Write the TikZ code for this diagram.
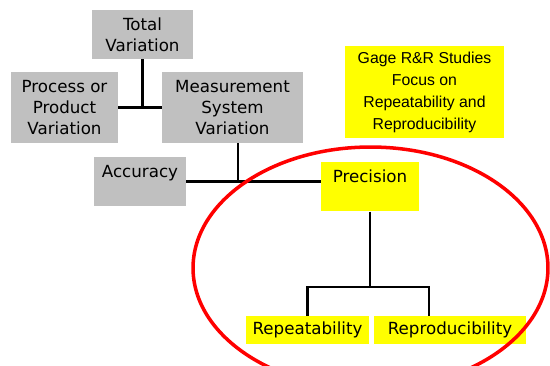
\documentclass[tikz,border=0pt]{standalone}
\usepackage{fontspec}
\setmainfont{DejaVu Sans}
\newfontfamily\notefont{Liberation Sans}
\usepackage{tikz}
\usetikzlibrary{positioning,calc}

\definecolor{boxgray}{RGB}{192,192,192}
\definecolor{markyellow}{RGB}{255,255,0}

\begin{document}
\begin{tikzpicture}[
    x=0.02cm, y=-0.02cm,
    var/.style = {rectangle, fill=boxgray, inner sep=0pt, align=center, font=\fontsize{9.5}{11.9}\selectfont},
    toptext/.style = {anchor=north, text height=11.5pt, text depth=16.3pt},
    prec/.style = {rectangle, fill=markyellow, inner sep=0pt, align=center, font=\fontsize{9.5}{11.9}\selectfont},
    note/.style = {rectangle, fill=markyellow, inner sep=0pt, align=center, font=\notefont\fontsize{9}{12.5}\selectfont},
    link/.style = {line width=1.5pt},
    ring/.style = {draw=red, line width=2pt}
]
    \useasboundingbox (0,0) rectangle (550,365);
    \clip (0,0) rectangle (550,365);

    \node[var, minimum width=2.02cm, minimum height=0.98cm] (total) at (142.5,34.5) {Total\\Variation};
    \node[var, minimum width=2.14cm, minimum height=1.42cm] (proc) at (64.5,107.5) {Process or\\Product\\Variation};
    \node[var, minimum width=2.82cm, minimum height=1.42cm] (meas) at (232.5,107.5) {Measurement\\System\\Variation};
    \node[var, toptext, minimum width=1.84cm] (acc) at (140,157) {Accuracy};
    \node[prec, toptext, minimum width=1.96cm] (precision) at (370,162) {Precision};
    \node[prec, minimum width=2.46cm, minimum height=0.56cm] (repeat) at (307.5,330) {Repeatability};
    \node[prec, minimum width=3.04cm, minimum height=0.56cm] (reprod) at (450,330) {Reproducibility};
    \node[note, minimum width=3.18cm, minimum height=1.84cm] (gage) at (424.5,92) {Gage R\&R Studies\\Focus on\\Repeatability and\\Reproducibility};

    \coordinate (mj) at (238,181.5);
    \coordinate (pbar) at (0,287);
    \coordinate (rbar) at (429,287);

    \draw[link] (total.south) -- (total.south |- proc.east);
    \draw[link] (proc.east) -- (meas.west);
    \draw[link] (meas.south -| mj) -- (mj);
    \draw[link] (acc.east) -- (acc.east -| precision.west);
    \draw[link] (precision.south) -- (precision.south |- pbar);
    \draw[link] (repeat.north) -- (repeat.north |- pbar) -- (rbar) -- (rbar |- reprod.north);

    \draw[ring] (370.5,268) ellipse [x radius=3.55cm, y radius=2.42cm];
\end{tikzpicture}
\end{document}
